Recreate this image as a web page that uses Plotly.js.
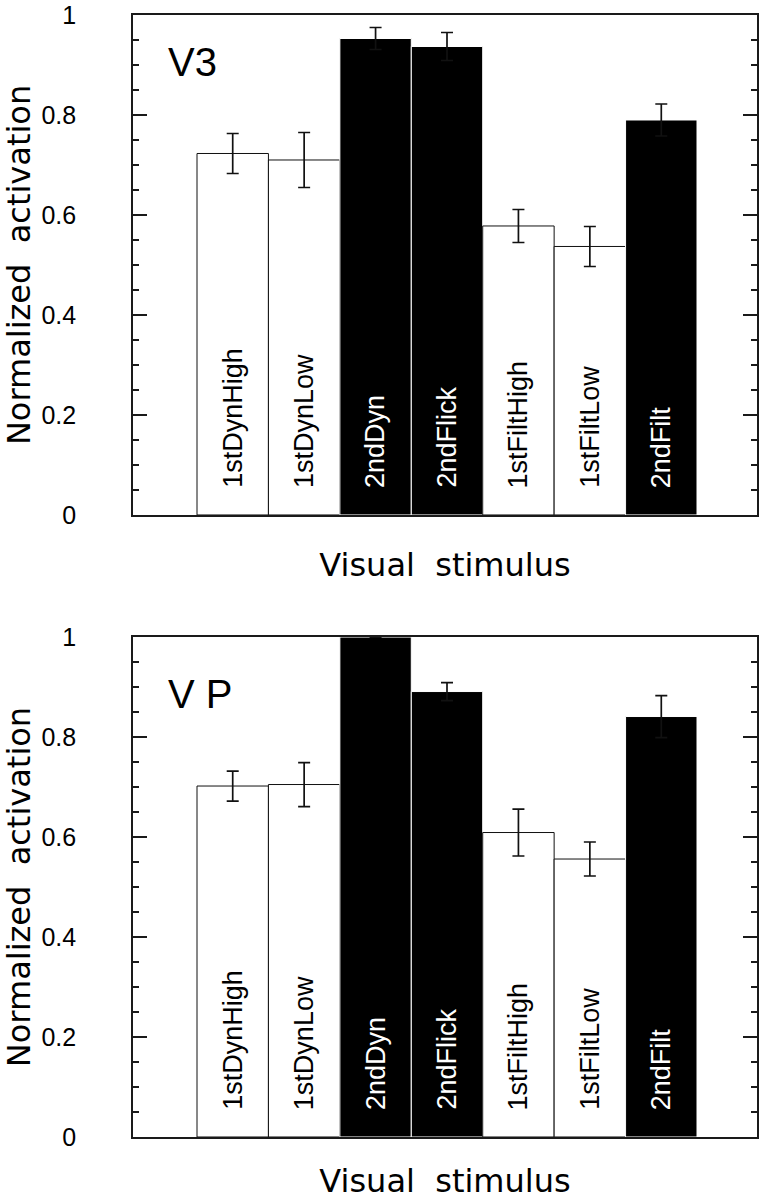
<!DOCTYPE html>
<html>
<head>
<meta charset="utf-8">
<script src="https://cdn.plot.ly/plotly-3.0.1.min.js"></script>
<style>
  html, body { margin: 0; padding: 0; background: #fff; }
</style>
</head>
<body>
<div id="divplot" style="width:768px;height:1200px;"></div>
<script>
// stimulus conditions (same order in both panels)
var stimuli = ['1stDynHigh', '1stDynLow', '2ndDyn', '2ndFlick', '1stFiltHigh', '1stFiltLow', '2ndFilt'];
var isSecondOrder = [false, false, true, true, false, false, true];

// V3 panel
var v3Mean = [0.723, 0.710, 0.953, 0.937, 0.578, 0.537, 0.790];
var v3Err  = [0.040, 0.055, 0.022, 0.028, 0.033, 0.040, 0.032];

// VP panel (2ndDyn runs into the top of the frame, no visible error bar)
var vpMean = [0.702, 0.705, 1.000, 0.891, 0.609, 0.556, 0.841];
var vpErr  = [0.030, 0.044, null, 0.018, 0.047, 0.034, 0.042];

var barFill = isSecondOrder.map(function(s){ return s ? '#000' : '#fff'; });
var barEdge = isSecondOrder.map(function(s){ return s ? '#fff' : '#111'; });
var labelColor = isSecondOrder.map(function(s){ return s ? '#fff' : '#000'; });

var makeTrace = function(means, errs, xa, ya){
    return {
        type: 'bar',
        x: stimuli,
        y: means,
        xaxis: xa,
        yaxis: ya,
        width: 1,
        marker: { color: barFill, line: { color: barEdge, width: 1 } },
        error_y: { type: 'data', array: errs, visible: true, color: '#111', thickness: 1.7, width: 6 },
        hoverinfo: 'skip',
        showlegend: false
    };
};

var traceData = [
    makeTrace(v3Mean, v3Err, 'x', 'y'),
    makeTrace(vpMean, vpErr, 'x2', 'y2')
];

var titleFont = { family: 'DejaVu Sans', size: 32, color: '#000' };
var tickFont = { family: 'Liberation Sans, Arial, sans-serif', size: 25, color: '#000' };

var xAxisStyle = function(anchor){
    return {
        anchor: anchor,
        domain: [0, 1],
        type: 'category',
        range: [-1.396, 7.34],
        showticklabels: false,
        ticks: '',
        showgrid: false,
        zeroline: false,
        showline: true,
        mirror: true,
        linecolor: '#1a1a1a',
        linewidth: 1.8,
        title: { text: 'Visual\u00a0\u00a0stimulus', font: titleFont, standoff: 38 }
    };
};

var yAxisStyle = function(anchor, dom){
    return {
        anchor: anchor,
        domain: dom,
        range: [0, 1],
        tick0: 0,
        dtick: 0.2,
        ticks: 'inside',
        ticklen: 14,
        tickwidth: 1.6,
        tickcolor: '#1a1a1a',
        minor: { dtick: 0.05, ticks: 'inside', ticklen: 6, tickwidth: 1.2, tickcolor: '#1a1a1a' },
        ticklabelstandoff: 50,
        tickfont: tickFont,
        showgrid: false,
        zeroline: false,
        showline: true,
        mirror: 'ticks',
        linecolor: '#1a1a1a',
        linewidth: 1.8,
        title: { text: 'Normalized\u00a0\u00a0activation', font: titleFont, standoff: 6 }
    };
};

// rotated condition names sitting at the foot of each bar
var annotations = [];
[['x', 'y'], ['x2', 'y2']].forEach(function(ax){
    stimuli.forEach(function(name, i){
        annotations.push({
            xref: ax[0], yref: ax[1],
            x: name, y: 0.05,
            xanchor: 'center', yanchor: 'bottom',
            text: name,
            textangle: -90,
            showarrow: false,
            font: { family: 'Liberation Sans, Arial, sans-serif', size: 27, color: labelColor[i] }
        });
    });
});
annotations.push({
    xref: 'x domain', yref: 'y domain', x: 0.053, y: 0.906,
    xanchor: 'left', yanchor: 'middle', text: 'V3', showarrow: false,
    font: { family: 'Liberation Sans, Arial, sans-serif', size: 40, color: '#000' }
});
annotations.push({
    xref: 'x2 domain', yref: 'y2 domain', x: 0.053, y: 0.886,
    xanchor: 'left', yanchor: 'middle', text: 'V P', showarrow: false,
    font: { family: 'Liberation Sans, Arial, sans-serif', size: 40, color: '#000' }
});

var layout = {
    width: 768,
    height: 1200,
    margin: { l: 133, r: 11, t: 15, b: 63 },
    paper_bgcolor: '#fff',
    plot_bgcolor: '#fff',
    bargap: 0,
    showlegend: false,
    xaxis: xAxisStyle('y'),
    yaxis: yAxisStyle('x', [0.5544, 1]),
    xaxis2: xAxisStyle('y2'),
    yaxis2: yAxisStyle('x2', [0, 0.4456]),
    annotations: annotations
};

Plotly.newPlot('divplot', traceData, layout, { staticPlot: true, displayModeBar: false });
</script>
</body>
</html>
